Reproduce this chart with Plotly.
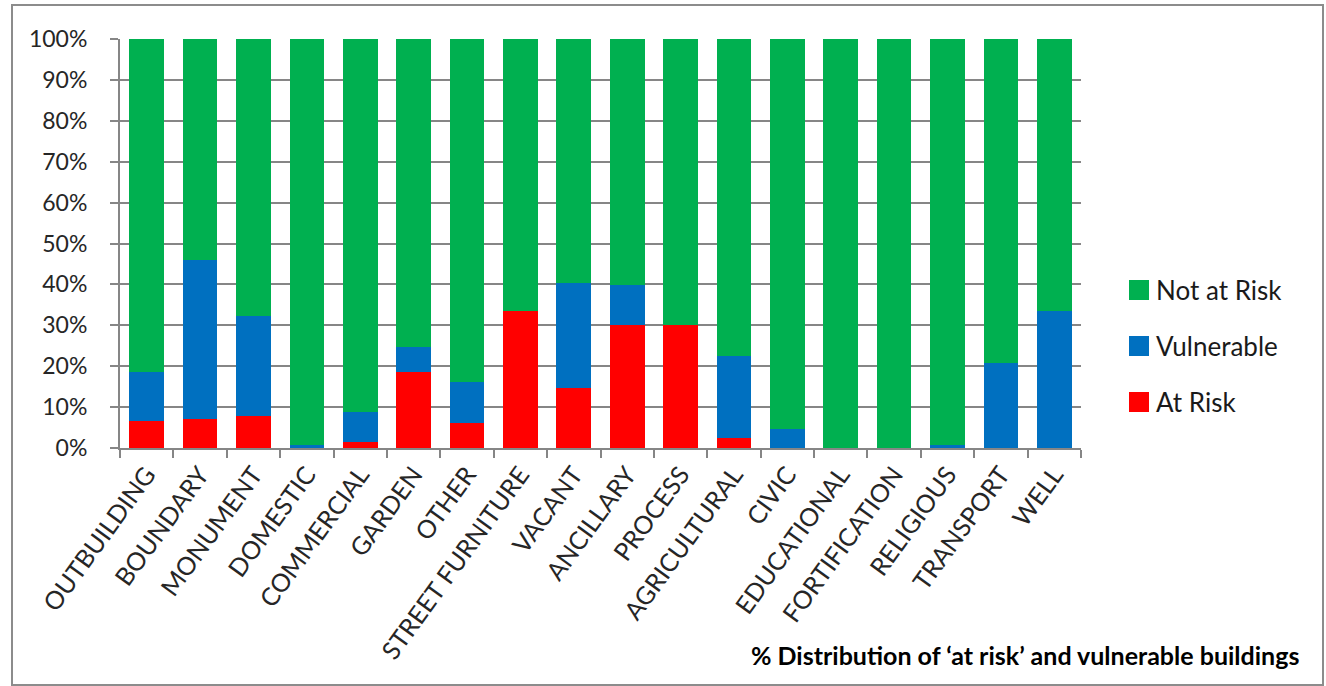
import plotly.graph_objects as go

# Building categories along the x axis
categories = [
    "OUTBUILDING", "BOUNDARY", "MONUMENT", "DOMESTIC", "COMMERCIAL", "GARDEN",
    "OTHER", "STREET FURNITURE", "VACANT", "ANCILLARY", "PROCESS", "AGRICULTURAL",
    "CIVIC", "EDUCATIONAL", "FORTIFICATION", "RELIGIOUS", "TRANSPORT", "WELL",
]

# Percentage shares per category (stacked bottom to top)
at_risk = [6.5, 7.1, 7.8, 0.0, 1.4, 18.5, 6.0, 33.4, 14.6, 30.0, 30.0, 2.5,
           0.0, 0.0, 0.0, 0.0, 0.0, 0.0]
vulnerable = [12.0, 38.9, 24.5, 0.7, 7.4, 6.3, 10.2, 0.0, 25.7, 9.8, 0.0, 20.0,
              4.7, 0.0, 0.0, 0.7, 20.7, 33.4]
not_at_risk = [81.5, 54.0, 67.7, 99.3, 91.2, 75.2, 83.8, 66.6, 59.7, 60.2, 70.0, 77.5,
               95.3, 100.0, 100.0, 99.3, 79.3, 66.6]

series_names = ["At Risk", "Vulnerable", "Not at Risk"]
series_values = [at_risk, vulnerable, not_at_risk]
series_colors = ["#FF0000", "#0070C0", "#00B050"]

y_ticks = list(range(0, 101, 10))
y_tick_labels = [f"{v}%" for v in y_ticks]

caption = "% Distribution of \u2018at risk\u2019 and vulnerable buildings"

FONT = "Lato, 'Open Sans', sans-serif"
GRID = "#868686"

W, H = 1326, 686
L, R, T, B = 120, 245, 39, 238
PW, PH = W - L - R, H - T - B


def px_x(x):
    return (x - L) / PW


def px_y(y):
    return (H - B - y) / PH


fig = go.Figure()
for name, vals, col in zip(series_names, series_values, series_colors):
    fig.add_trace(go.Bar(
        x=categories, y=vals, name=name, marker_color=col,
        marker_line_width=0, showlegend=False,
    ))

shapes = [
    # outer chart border
    dict(type="rect", xref="paper", yref="paper",
         x0=px_x(12), x1=px_x(1323), y0=px_y(685), y1=px_y(5),
         line=dict(color="#8C8C8C", width=2), fillcolor="rgba(0,0,0,0)", layer="below"),
]
annotations = []

# legend entries, top to bottom: Not at Risk, Vulnerable, At Risk
legend_rows = [290, 346, 402]
for (name, col), yc in zip(list(zip(series_names, series_colors))[::-1], legend_rows):
    shapes.append(dict(type="rect", xref="paper", yref="paper",
                       x0=px_x(1129), x1=px_x(1149), y0=px_y(yc + 10), y1=px_y(yc - 10),
                       line=dict(width=0), fillcolor=col))
    annotations.append(dict(xref="paper", yref="paper", x=px_x(1154), y=px_y(yc),
                            xanchor="left", yanchor="middle", showarrow=False,
                            text=name, font=dict(family=FONT, size=26, color="#1a1a1a")))

annotations.append(dict(xref="paper", yref="paper", x=px_x(1301), y=px_y(655),
                        xanchor="right", yanchor="middle", showarrow=False,
                        text=f"<b>{caption}</b>",
                        font=dict(family=FONT, size=25, color="#000000")))

fig.update_layout(
    width=W, height=H,
    margin=dict(l=L, r=R, t=T, b=B, pad=0),
    barmode="stack", bargap=0.35,
    plot_bgcolor="white", paper_bgcolor="white",
    shapes=shapes, annotations=annotations,
    showlegend=False,
)

fig.update_xaxes(
    type="category", showgrid=False,
    showline=True, linecolor=GRID, linewidth=2,
    ticks="outside", tickson="boundaries", ticklen=8, tickcolor=GRID, tickwidth=2,
    tickangle=-54, tickfont=dict(family=FONT, size=25, color="#262626"),
)

fig.update_yaxes(
    range=[0, 100], tickvals=y_ticks, ticktext=y_tick_labels,
    showgrid=True, gridcolor=GRID, gridwidth=2,
    showline=True, linecolor=GRID, linewidth=2,
    ticks="outside", ticklen=8, tickcolor=GRID, tickwidth=2,
    ticklabelstandoff=18,
    tickfont=dict(family=FONT, size=23, color="#262626"),
    zeroline=False,
)

fig.write_html("out.html")
